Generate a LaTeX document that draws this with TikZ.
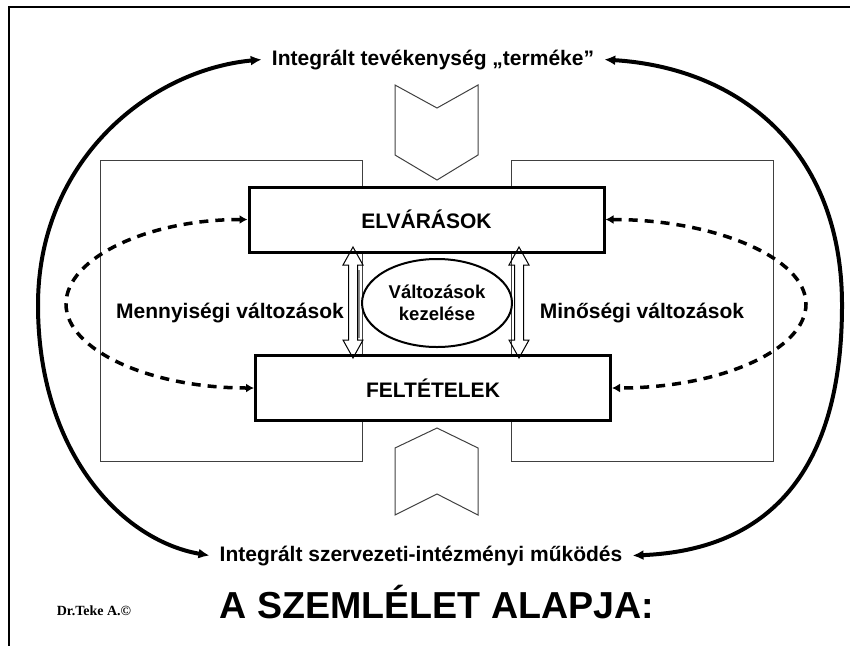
\documentclass[tikz,border=0pt]{standalone}
\usepackage{fontspec}
\setmainfont{Liberation Sans}
\newfontfamily\talpas{Liberation Serif}
\usetikzlibrary{arrows.meta,shapes.geometric}

\begin{document}
\begin{tikzpicture}[x=1pt,y=-1pt,font=\fontsize{21}{25}\selectfont\bfseries,>={Latex[length=11pt,width=10pt]}]
    \tikzstyle{doboz}=[draw,line width=3pt,fill=white,minimum width=355pt,minimum height=65pt,inner sep=0pt]
    \tikzstyle{vekony}=[draw=black!75,line width=1pt]
    \tikzstyle{felirat}=[inner sep=0pt,anchor=base]
    \tikzstyle{ivnyil}=[<->,line width=4pt]
    \tikzstyle{szaggatott}=[{Latex[length=8pt,width=9pt]}-{Latex[length=8pt,width=9pt]},line width=3.5pt,dash pattern=on 9pt off 7pt]

    \useasboundingbox (0,0) rectangle (850,646);
    \draw[line width=2pt] (850,7) -- (9,7) -- (9,646);

    % oldalso keretek es a ket nyilforma
    \draw[vekony] (100,160) rectangle (362,461);
    \draw[vekony] (511,160) rectangle (773,461);
    \draw[vekony] (395,85) -- (437,108) -- (478,85) -- (478,155) -- (437,180) -- (395,155) -- cycle;
    \draw[vekony] (395,448) -- (437,428) -- (478,448) -- (478,515) -- (437,494) -- (395,515) -- cycle;

    \node[doboz] (elvar) at (426.5,219.5) {ELVÁRÁSOK};
    \node[doboz] (feltet) at (433,388) {FELTÉTELEK};
    \node[ellipse,draw,line width=2pt,minimum width=150pt,minimum height=88pt,inner sep=0pt,align=center,
          font=\fontsize{18.5}{22}\selectfont\bfseries] (kezel) at (437,303) {Változások\\kezelése};

    \fill[black!45] (357,270) rectangle (359.5,338);
    \foreach \x in {353,519}
        \draw[line width=1pt] (\x,247) -- (\x+10,265) -- (\x+4.5,265) -- (\x+4.5,340) -- (\x+10,340) -- (\x,358)
            -- (\x-10,340) -- (\x-4.5,340) -- (\x-4.5,265) -- (\x-10,265) -- cycle;

    \node[felirat] (menny) at (230,318) {Mennyiségi változások};
    \node[felirat] (minos) at (642,318) {Minőségi változások};

    \node[felirat,inner xsep=10pt] (termek) at (433,65) {Integrált tevékenység „terméke”};
    \node[felirat,inner xsep=10pt] (mukodes) at (421,561) {Integrált szervezeti-intézményi működés};

    \draw[szaggatott] (elvar.west) .. controls (148,219.5) and (66,258) .. (66,304)
        .. controls (66,350) and (150,388) .. (feltet.west);
    \draw[szaggatott] (elvar.east) .. controls (715,219.5) and (806,258) .. (806,304)
        .. controls (806,350) and (720,388) .. (feltet.east);

    \draw[ivnyil] (termek.west) .. controls (150,70) and (38,160) .. (38,305)
        .. controls (38,450) and (120,540) .. (mukodes.west);
    \draw[ivnyil] (termek.east) .. controls (740,68) and (842,150) .. (842,305)
        .. controls (842,470) and (770,550) .. (mukodes.east);

    \node[felirat,font=\fontsize{37.6}{40}\selectfont\bfseries] (cim) at (437,618) {A SZEMLÉLET ALAPJA:};
    \node[felirat,font=\fontsize{14}{16}\selectfont\talpas\bfseries] (szerzo) at (94,615) {Dr.Teke A.©};
\end{tikzpicture}
\end{document}
